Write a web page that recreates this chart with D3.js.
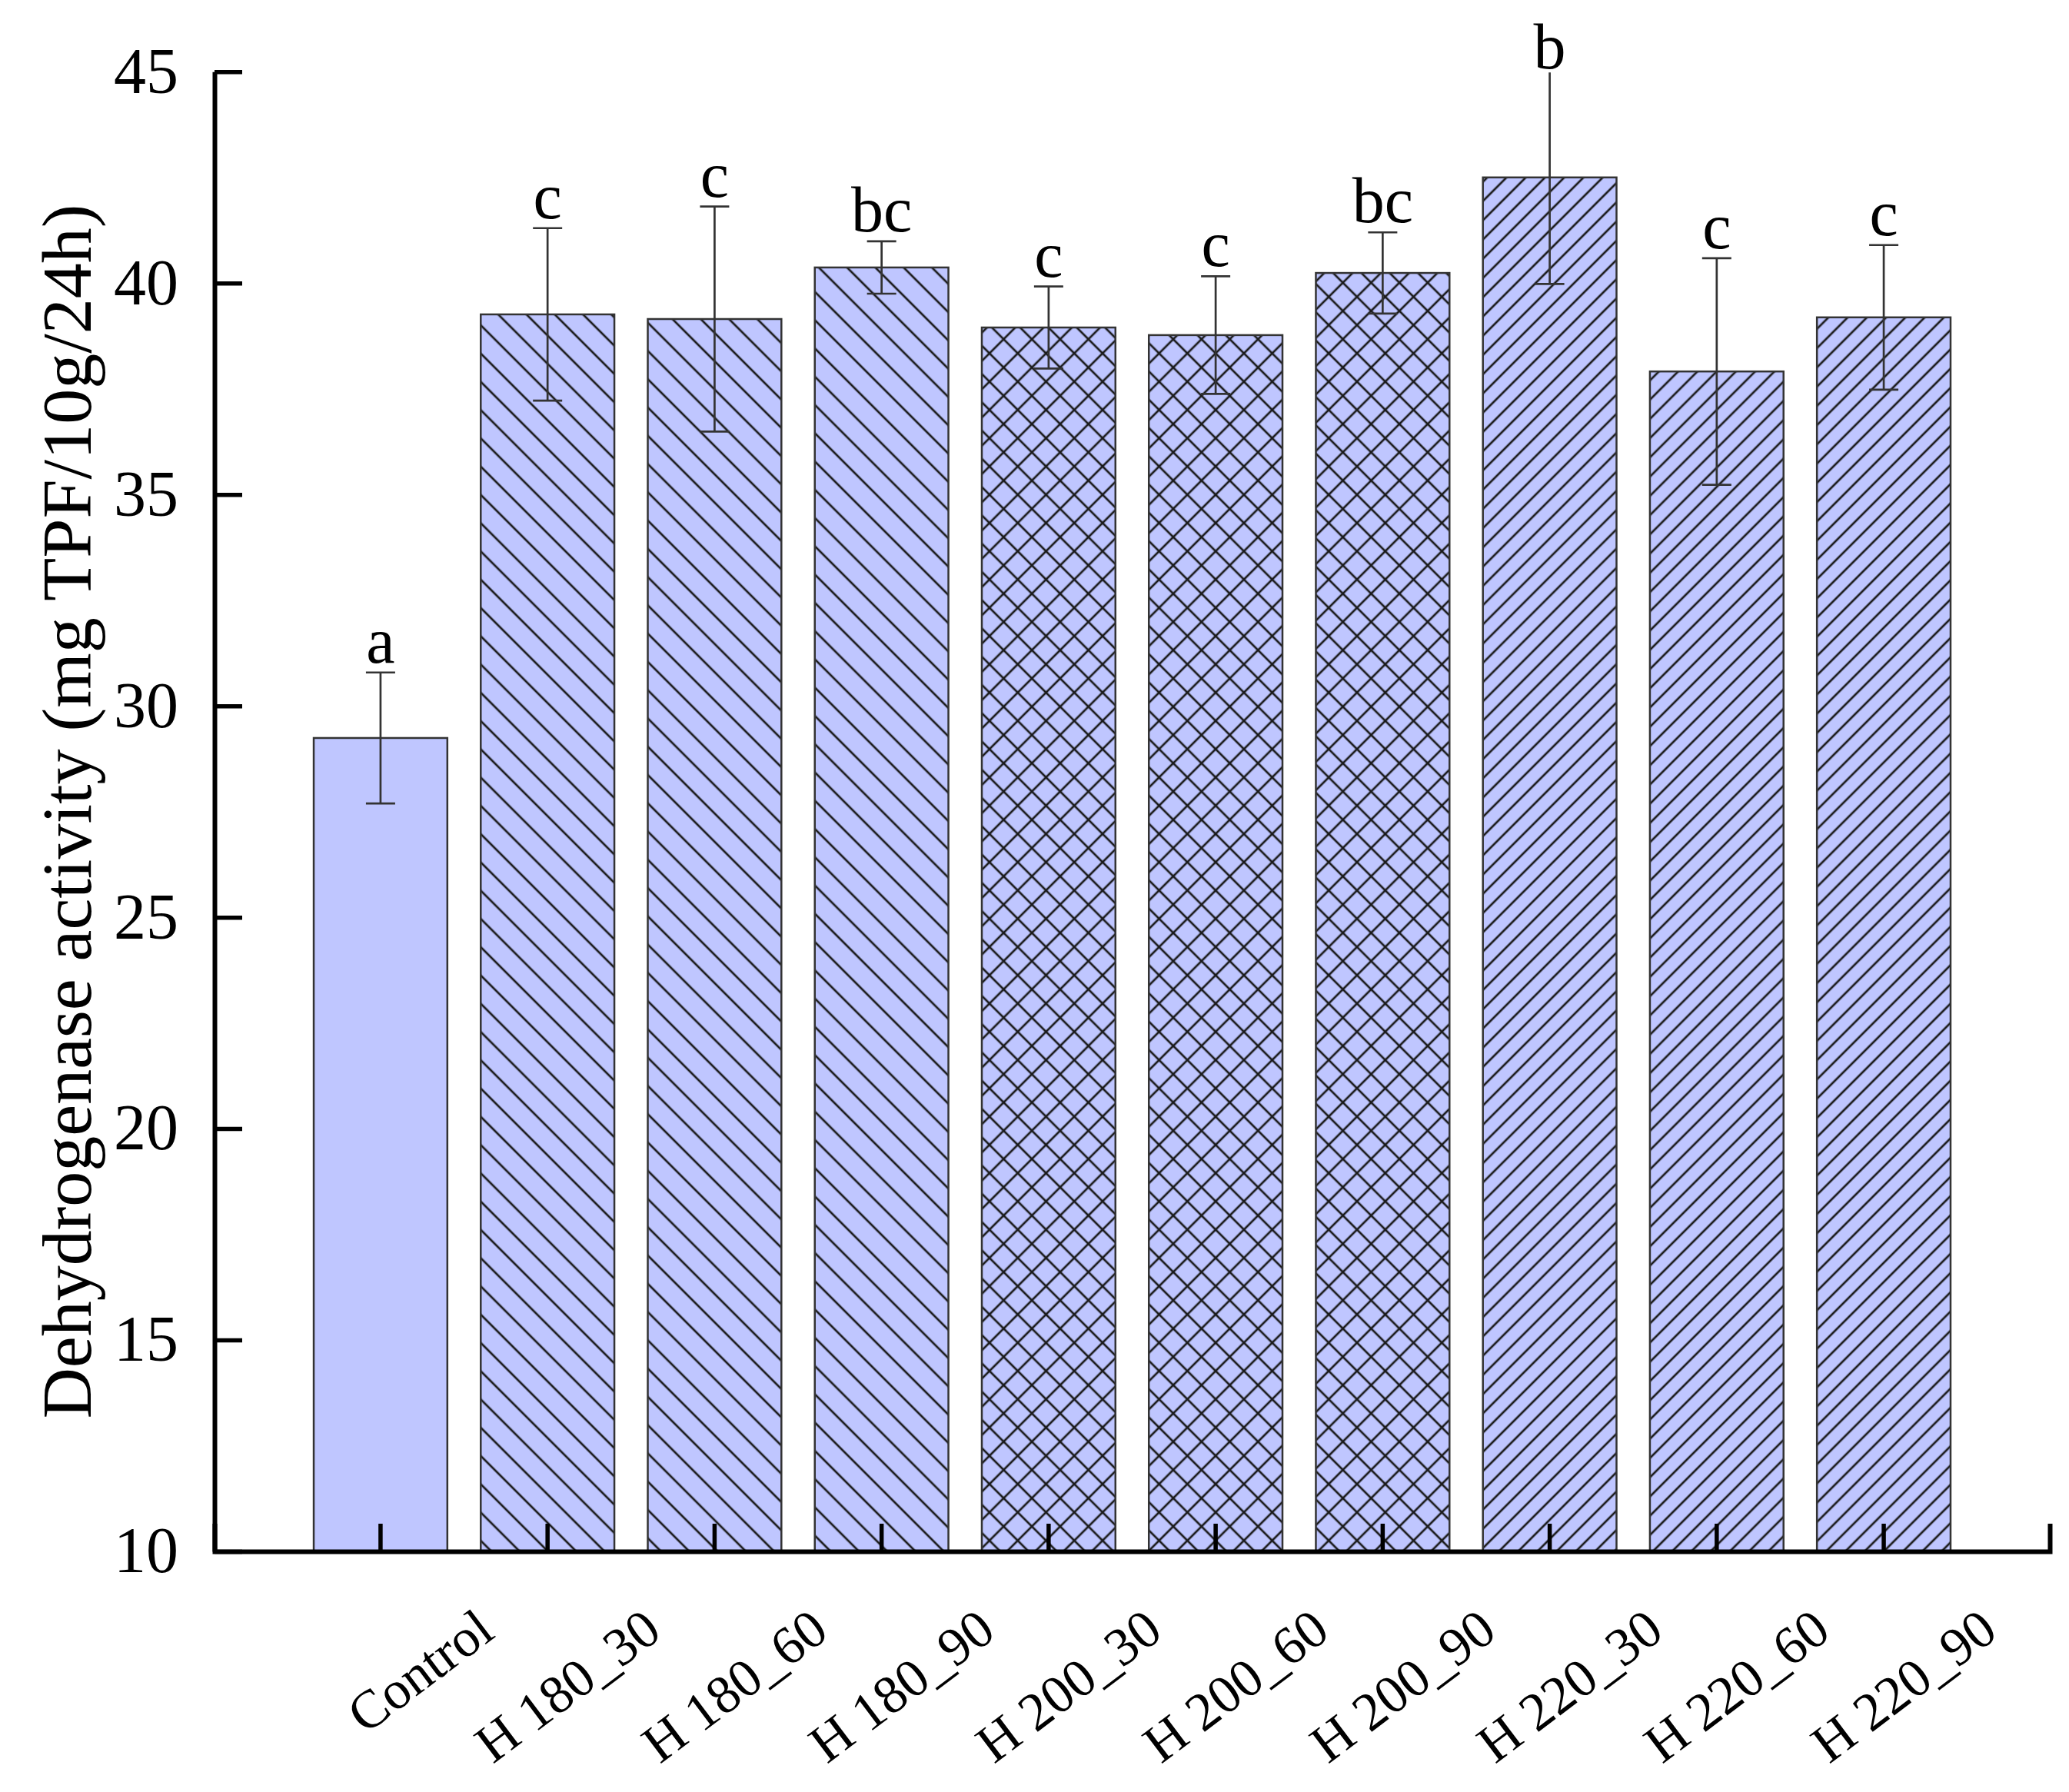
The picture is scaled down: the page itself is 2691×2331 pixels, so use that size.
<!DOCTYPE html>
<html>
<head>
<meta charset="utf-8">
<script src="https://cdn.jsdelivr.net/npm/d3@7"></script>
<style>
  body { margin: 0; background: #fff; }
  svg { display: block; }
</style>
</head>
<body>
<svg id="chart"></svg>
<script>
// values
var categories = ["Control", "H 180_30", "H 180_60", "H 180_90", "H 200_30",
                  "H 200_60", "H 200_90", "H 220_30", "H 220_60", "H 220_90"];
var means  = [29.24, 39.26, 39.15, 40.37, 38.95, 38.77, 40.24, 42.50, 37.91, 39.19];
var errors = [1.55, 2.04, 2.66, 0.62, 0.97, 1.39, 0.96, 2.52, 2.68, 1.71];
var letters = ["a", "c", "c", "bc", "c", "c", "bc", "b", "c", "c"];
var yTicks = [10, 15, 20, 25, 30, 35, 40, 45];
var yTitle = "Dehydrogenase activity (mg TPF/10g/24h)";

(function () {
    var w = 2691, h = 2331;
    var plotLeft = 279, plotRight = 2666, plotTop = 93.3, plotBottom = 2018;
    var fill = "#bfc6ff", ink = "#1a1a1a";
    var serif = "'Liberation Serif', 'Times New Roman', serif";

    var svg = d3.select("#chart")
        .attr("width", w)
        .attr("height", h)
        .attr("viewBox", "0 0 " + w + " " + h);

    var x = d3.scaleBand()
        .domain(categories)
        .range([plotLeft, plotRight])
        .paddingInner(0.2)
        .paddingOuter(0.594);

    var y = d3.scaleLinear()
        .domain([10, 45])
        .range([plotBottom, plotTop]);

    // hatch patterns per temperature group
    var defs = svg.append("defs");

    function hatch(id, angle, gap, cross) {
        var p = defs.append("pattern")
            .attr("id", id)
            .attr("patternUnits", "userSpaceOnUse")
            .attr("width", gap)
            .attr("height", gap)
            .attr("patternTransform", "rotate(" + angle + ")");
        p.append("rect").attr("width", gap).attr("height", gap).attr("fill", fill);
        p.append("line")
            .attr("x1", gap / 2).attr("y1", 0)
            .attr("x2", gap / 2).attr("y2", gap)
            .attr("stroke", ink).attr("stroke-width", 2.7);
        if (cross) {
            p.append("line")
                .attr("x1", 0).attr("y1", gap / 2)
                .attr("x2", gap).attr("y2", gap / 2)
                .attr("stroke", ink).attr("stroke-width", 2.7);
        }
    }

    hatch("back", -45, 26, false);
    hatch("cross", 45, 26, true);
    hatch("fwd", 45, 17.7, false);

    var groupFill = d3.scaleOrdinal()
        .domain(["Control", "H 180", "H 200", "H 220"])
        .range([fill, "url(#back)", "url(#cross)", "url(#fwd)"]);

    function group(name) {
        return name.split("_")[0];
    }

    var data = categories.map(function (c, i) {
        return { name: c, mean: means[i], err: errors[i], letter: letters[i] };
    });

    var cx = d => x(d.name) + x.bandwidth() / 2;

    // bars
    svg.append("g")
        .selectAll("rect")
        .data(data)
        .join("rect")
        .attr("x", d => x(d.name))
        .attr("y", d => y(d.mean))
        .attr("width", x.bandwidth())
        .attr("height", d => y(10) - y(d.mean))
        .attr("fill", d => groupFill(group(d.name)))
        .attr("stroke", "#333")
        .attr("stroke-width", 2.5);

    // error bars, clipped to the axis range
    defs.append("clipPath").attr("id", "plotClip")
        .append("rect")
        .attr("x", plotLeft).attr("y", plotTop + 1)
        .attr("width", plotRight - plotLeft).attr("height", plotBottom - plotTop);

    var capHalf = 19;
    var eb = svg.append("g")
        .attr("clip-path", "url(#plotClip)")
        .attr("stroke", "#333")
        .attr("stroke-width", 2.7)
        .selectAll("g")
        .data(data)
        .join("g");

    eb.append("line")
        .attr("x1", cx).attr("x2", cx)
        .attr("y1", d => y(d.mean - d.err))
        .attr("y2", d => y(d.mean + d.err));

    eb.append("line")
        .attr("x1", d => cx(d) - capHalf)
        .attr("x2", d => cx(d) + capHalf)
        .attr("y1", d => y(d.mean + d.err))
        .attr("y2", d => y(d.mean + d.err));

    eb.append("line")
        .attr("x1", d => cx(d) - capHalf)
        .attr("x2", d => cx(d) + capHalf)
        .attr("y1", d => y(d.mean - d.err))
        .attr("y2", d => y(d.mean - d.err));

    // significance letters
    svg.append("g")
        .selectAll("text")
        .data(data)
        .join("text")
        .attr("x", cx)
        .attr("y", d => Math.max(y(d.mean + d.err) - 13, plotTop - 4))
        .attr("text-anchor", "middle")
        .attr("font-family", serif)
        .attr("font-size", 84)
        .attr("fill", "#000")
        .text(d => d.letter);

    // axes
    var yAxis = d3.axisLeft(y)
        .tickValues(yTicks)
        .tickSize(-36)
        .tickSizeOuter(0)
        .tickPadding(47);

    var gy = svg.append("g")
        .attr("transform", "translate(" + plotLeft + ",0)")
        .call(yAxis);

    var xAxis = d3.axisBottom(x)
        .tickSize(-36)
        .tickSizeOuter(-36);

    var gx = svg.append("g")
        .attr("transform", "translate(0," + plotBottom + ")")
        .call(xAxis);

    [gx, gy].forEach(function (g) {
        g.select(".domain").attr("stroke", "#000").attr("stroke-width", 6);
        g.selectAll(".tick line").attr("stroke", "#000").attr("stroke-width", 5.5);
    });

    gy.selectAll(".tick text")
        .attr("font-family", serif)
        .attr("font-size", 84)
        .attr("fill", "#000");

    gx.selectAll(".tick text")
        .attr("x", 0).attr("y", 0).attr("dy", 0)
        .attr("transform", "translate(151,110) rotate(-37)")
        .attr("text-anchor", "end")
        .attr("font-family", serif)
        .attr("font-size", 70)
        .attr("fill", "#000");

    svg.append("text")
        .attr("transform", "translate(118," + ((plotTop + plotBottom) / 2) + ") rotate(-90)")
        .attr("text-anchor", "middle")
        .attr("font-family", serif)
        .attr("font-size", 92)
        .attr("fill", "#000")
        .text(yTitle);
})();
</script>
</body>
</html>
